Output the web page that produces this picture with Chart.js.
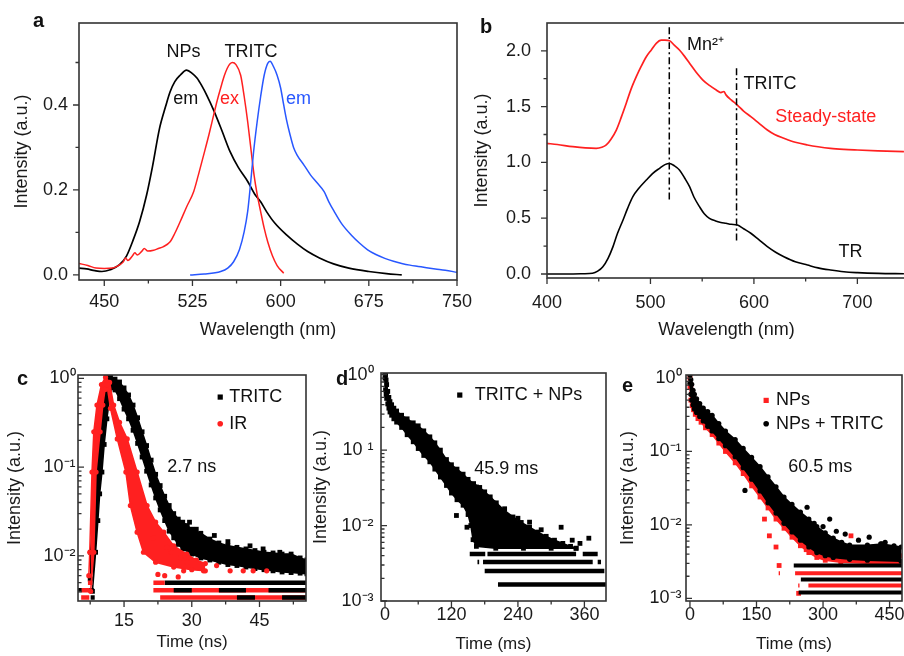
<!DOCTYPE html>
<html>
<head>
<meta charset="utf-8">
<title>Spectra and decay curves</title>
<script src="https://cdn.jsdelivr.net/npm/chart.js@4.4.1/dist/chart.umd.min.js"></script>
<style>
  html, body { margin: 0; padding: 0; background: #fff; width: 904px; height: 656px; overflow: hidden; }
  .panel { position: absolute; }
  .tag { position: absolute; font: bold 20px/20px "Liberation Sans", Arial, sans-serif; color: #111; }
</style>
</head>
<body>
<div class="panel" style="left:0;top:20px;width:474px;height:325px"><canvas id="chartA"></canvas></div>
<div class="panel" style="left:460px;top:20px;width:446px;height:325px"><canvas id="chartB"></canvas></div>
<div class="panel" style="left:0;top:362px;width:310px;height:294px"><canvas id="chartC"></canvas></div>
<div class="panel" style="left:308px;top:360px;width:302px;height:296px"><canvas id="chartD"></canvas></div>
<div class="panel" style="left:612px;top:362px;width:294px;height:294px"><canvas id="chartE"></canvas></div>
<div class="tag" style="left:33px;top:10px">a</div>
<div class="tag" style="left:480px;top:16px">b</div>
<div class="tag" style="left:17px;top:368px">c</div>
<div class="tag" style="left:336px;top:368px">d</div>
<div class="tag" style="left:622px;top:375px">e</div>
<script>
const RED = '#ff2020', BLUE = '#2857ff', BLACK = '#000';

// ---- a: NPs emission, TRITC excitation and emission (wavelength nm / intensity)
const npsEmNm = [428.5,435,442,448,455,463,469,474,480,486,491,497,502,506,510,514.5,520,525,529,533,537,543,550,557,564,572,578,583,588,595,605,614,623,633,645,658,675,690,703];
const npsEm = [0.016,0.014,0.010,0.008,0.012,0.024,0.045,0.078,0.125,0.188,0.255,0.345,0.395,0.431,0.455,0.470,0.482,0.474,0.463,0.445,0.424,0.388,0.34,0.29,0.253,0.22,0.19,0.172,0.149,0.122,0.094,0.073,0.055,0.04,0.026,0.016,0.008,0.003,0.0];
const tritcExNm = [428.5,436,443,450,457,462,466,468,470,474,476,478,482,484,487,492,496,500,506,510,514.5,520,526,530,534.5,539,543,546,549,552,554.5,557,559,562,566,569,572,575,577.4,580,583,586,589,593,597,602.6];
const tritcEx = [0.027,0.022,0.016,0.015,0.016,0.022,0.030,0.040,0.034,0.045,0.052,0.047,0.056,0.062,0.056,0.058,0.062,0.066,0.078,0.098,0.125,0.16,0.196,0.235,0.282,0.33,0.376,0.41,0.44,0.468,0.486,0.497,0.5,0.495,0.47,0.42,0.36,0.29,0.235,0.19,0.149,0.11,0.078,0.045,0.022,0.004];
const tritcEmNm = [523,535,549,555,560,565,569,572,574.6,577,580,583,586,589,591,594,597,600,602.6,605,608,611,614,620,625.5,631,637,641,645.6,652,660,667,674,681,688.6,696,703,710,717,724,731.5,740,750];
const tritcEm = [0.0,0.002,0.008,0.016,0.031,0.06,0.102,0.15,0.22,0.29,0.36,0.42,0.47,0.498,0.503,0.49,0.47,0.44,0.40,0.365,0.33,0.30,0.282,0.258,0.235,0.217,0.196,0.172,0.149,0.12,0.094,0.075,0.059,0.048,0.039,0.032,0.027,0.023,0.02,0.017,0.014,0.011,0.006];
const aXTicks = [450,525,600,675,750], aXMinor = [487.5,562.5,637.5,712.5];
const aYTicks = [0,0.2,0.4], aYMinor = [0.1,0.3,0.5];

// ---- b: steady-state and time-resolved spectra
const steadyNm = [400,410,425,437,447.6,453,457.3,462,467,472,476.6,481,486.3,491,496,501,505.6,510.4,514,518.5,523,528,533,537.8,544,550.7,557,563.6,568,571,573,578,584,590,597,605,613,620,629,640,651.8,662,674,687,700,720,745];
const steady = [1.17,1.16,1.141,1.13,1.126,1.135,1.156,1.21,1.29,1.41,1.53,1.65,1.768,1.86,1.947,2.01,2.067,2.095,2.095,2.09,2.05,2.007,1.95,1.888,1.81,1.738,1.69,1.649,1.625,1.635,1.605,1.56,1.514,1.46,1.41,1.35,1.29,1.25,1.216,1.18,1.156,1.14,1.126,1.117,1.111,1.103,1.096];
const trNm = [400,420,435,444,449,454,459,463.8,468,473.5,478,483,489,496,502,508.8,514,518.5,523,528,533,537.8,542,547.4,552,557,563,568,573,578,584,590,597,605,613,621,629,640,651.8,662,674,687,700,720,745];
const tr = [0.0,0.0,0.002,0.006,0.025,0.065,0.14,0.245,0.36,0.484,0.59,0.693,0.77,0.842,0.9,0.947,0.98,0.99,0.97,0.932,0.86,0.782,0.69,0.603,0.54,0.499,0.475,0.462,0.454,0.445,0.439,0.405,0.365,0.305,0.245,0.195,0.155,0.11,0.08,0.055,0.036,0.02,0.012,0.005,0.002];
const mnLineNm = [518.2,518.2], mnLineY = [2.21,0.65];
const tritcLineNm = [583.2,583.2], tritcLineY = [1.843,0.275];
const bXTicks = [400,500,600,700], bXMinor = [450,550,650];
const bYTicks = [0,0.5,1,1.5,2], bYMinor = [0.25,0.75,1.25,1.75];

// ---- c: TRITC and IR decays (ns), cloud edges + stray points + count floors
const cTritcUpT = [7.5,7.6,8.0,8.4,8.7,9.2,9.7,10.1,10.6,11.1,11.6,12,13,14,15,16,17,18,19,20,21,22,23,24,25,26,27,28,29,30,32,34,36,38,40,42,44,46,48,50,52,54,55.5];
const cTritcUpI = [0.0055,0.011,0.025,0.05,0.088,0.16,0.3,0.5,0.75,0.95,1.04,1.05,0.98,0.91,0.78,0.65,0.5,0.36,0.25,0.175,0.12,0.083,0.062,0.047,0.037,0.03,0.026,0.024,0.022,0.02,0.018,0.0155,0.014,0.013,0.0125,0.012,0.0115,0.011,0.0108,0.0105,0.0105,0.0095,0.009];
const cTritcLoT = [8.0,8.7,9.2,9.6,10.1,10.6,11.2,11.8,12.2,13,14,15,16,17,18,19,20,21,22,23,24,25,26,27,28,30,32,34,36,38,40,42,44,46,48,50,52,54,55.5];
const cTritcLoI = [0.004,0.011,0.025,0.05,0.088,0.18,0.35,0.6,0.78,0.74,0.59,0.45,0.35,0.26,0.185,0.13,0.09,0.063,0.045,0.033,0.025,0.019,0.016,0.0135,0.012,0.0105,0.0095,0.009,0.0085,0.008,0.0078,0.0075,0.0072,0.007,0.0068,0.0066,0.0065,0.0064,0.0063];
const cTritcDotT = [29.5,31,42.9,45.8,49.5,51,35,38];
const cTritcDotI = [0.024,0.02,0.013,0.012,0.011,0.0099,0.017,0.0145];
const cIrUpT = [7.2,7.4,7.9,8.3,9.0,10.0,10.9,11.8,12.7,14,15.7,17.9,20.1,22,23.8,26,28.9,31,33];
const cIrUpI = [0.006,0.011,0.088,0.25,0.5,0.85,1.03,0.9,0.5,0.32,0.208,0.088,0.037,0.024,0.0185,0.013,0.0105,0.009,0.0082];
const cIrLoT = [7.6,8.3,8.8,9.7,10.3,10.8,11.2,12,13.5,15.4,16.4,17.9,19.3,22,26,30,33];
const cIrLoI = [0.004,0.011,0.088,0.25,0.5,0.75,0.85,0.46,0.208,0.088,0.037,0.0185,0.011,0.0085,0.0075,0.007,0.0068];
const cIrDotT = [28.2,32.6,38.5,41.4,43.6,46.6,27.5,29,24.5,21.5,25.5,35.5,22.5,24,27];
const cIrDotI = [0.0068,0.0068,0.0068,0.0068,0.0068,0.0068,0.0095,0.0085,0.0125,0.016,0.011,0.0078,0.0062,0.006,0.0058];
const cFloorBlack = [[0.005, [[24,55.3]]], [0.0041, [[4.8,5.6],[7.4,8.3],[26,30],[36,42],[47,55.3]]], [0.0034, [[7.6,8.5],[40,44],[50,55.3]]]];
const cFloorRed = [[0.005, [[21.5,24],[7.0,8.0]]], [0.0041, [[21.5,55.3],[5.5,7.5]]], [0.0034, [[23,55.3],[5.5,7.3]]]];
const cXTicks = [15,30,45], cXMinor = [7.5,22.5,37.5,52.5];
const cYTicks = [1,0.1,0.01], cYLabels = ['10⁰','10⁻¹','10⁻²'];

// ---- d: TRITC + NPs decay (ms)
const dUpT = [0,1,2,3,5,7,9,12,16,21,30,40,51,60,70,81,90,100,111,120,130,141,150,160,171,180,190,201,215,231,246,261,276,291,306,321,335,345];
const dUpI = [1.05,0.98,0.85,0.74,0.6,0.5,0.44,0.4,0.36,0.33,0.29,0.26,0.23,0.21,0.18,0.15,0.125,0.1,0.075,0.064,0.056,0.048,0.041,0.036,0.032,0.028,0.024,0.02,0.016,0.013,0.011,0.0095,0.0082,0.0072,0.0064,0.0058,0.0053,0.005];
const dLoT = [0,1,2,3,5,7,9,12,16,21,30,40,51,60,70,81,90,100,111,120,130,141,150,155,159,165,200,250,300,345];
const dLoI = [0.9,0.63,0.55,0.485,0.41,0.36,0.32,0.29,0.26,0.235,0.2,0.16,0.129,0.105,0.085,0.07,0.056,0.044,0.034,0.027,0.022,0.0186,0.014,0.01,0.0065,0.0053,0.005,0.005,0.005,0.005];
const dDotT = [165,216,261,318,368,195,240,282,303,338,352,129,148];
const dDotI = [0.0325,0.0167,0.0111,0.0095,0.0068,0.02,0.0125,0.0088,0.0059,0.0064,0.0058,0.0136,0.0095];
const dFloor = [[0.0042, [[153,181],[185,345],[357,384]]], [0.0033, [[167,170],[177,375],[384,390]]], [0.0025, [[180,396]]], [0.00166, [[204,399]]]];
const dXTicks = [0,120,240,360], dXMinor = [60,180,300];
const dYTicks = [1,0.1,0.01,0.001], dYLabels = ['10⁰','10 ¹','10⁻²','10⁻³'];

// ---- e: NPs and NPs + TRITC decays (ms)
const eRedT = [0,2,5,8,12,18,25,35,50,65,80,102,120,139,158,176,194,212,230,249,268,286,305,340,400,476];
const eRedUpI = [1.0,0.8,0.6,0.5,0.42,0.36,0.31,0.27,0.22,0.17,0.135,0.1,0.075,0.055,0.04,0.029,0.021,0.015,0.011,0.0085,0.0067,0.0055,0.0048,0.0042,0.004,0.0038];
const eRedLoI = [0.75,0.5,0.42,0.37,0.32,0.28,0.25,0.21,0.17,0.13,0.1,0.07,0.05,0.034,0.024,0.017,0.012,0.009,0.0068,0.0052,0.0042,0.0036,0.0033,0.0031,0.003,0.003];
const eBlkUpT = [0,2,4,7,10,15,22,30,40,50,65,80,102,120,139,158,176,194,212,230,249,268,286,305,323,342,360,400,433,476];
const eBlkUpI = [1.1,0.95,0.82,0.68,0.6,0.52,0.45,0.39,0.35,0.31,0.24,0.19,0.145,0.11,0.083,0.062,0.045,0.033,0.024,0.019,0.015,0.012,0.0095,0.0078,0.0066,0.0058,0.0053,0.0053,0.0055,0.005];
const eBlkLoT = [0,2,4,7,10,15,22,30,40,50,65,80,102,120,139,158,176,194,212,230,249,268,286,305,323,360,400,476];
const eBlkLoI = [0.85,0.6,0.5,0.43,0.38,0.34,0.3,0.26,0.22,0.19,0.15,0.12,0.085,0.06,0.042,0.029,0.02,0.0145,0.0105,0.008,0.0062,0.005,0.0042,0.0038,0.0036,0.0034,0.0033,0.0032];
const eRedDotT = [168,179,201,194,363,245,230,262];
const eRedDotI = [0.012,0.0071,0.0028,0.005,0.0071,0.00117,0.0105,0.0046];
const eBlkDotT = [264,315,404,430,124,280,350,380,440,460,300,330];
const eBlkDotI = [0.0174,0.012,0.0068,0.0055,0.0295,0.0105,0.0075,0.0062,0.0058,0.0052,0.0095,0.0082];
const eFloorBlack = [[0.0028, [[234,478]]], [0.0018, [[250,478]]], [0.0012, [[245,478]]]];
const eFloorRed = [[0.0022, [[200,203],[237,478]]], [0.0015, [[244,247],[267,478]]]];
const eXTicks = [0,150,300,450], eXMinor = [75,225,375];
const eYLabels = ['10⁰','10⁻¹','10⁻²','10⁻³'];

// minor ticks of the log axes: 2..9 of every decade inside the range
function logMinor(lo, min) {
  const out = [];
  for (let d = lo; d < 1; d *= 10) for (let k = 2; k <= 9; k++) out.push(+(k * d).toPrecision(3));
  return out.filter(v => v > min);
}

const FONT = '"Liberation Sans", Arial, Helvetica, sans-serif';
Chart.defaults.font.family = FONT;
Chart.defaults.font.size = 18;
Chart.defaults.color = '#111';

const pts = (xs, ys) => xs.map((x, i) => ({x: x, y: ys[i]}));

function curve(xs, ys, color, w) {
  return {data: pts(xs, ys), borderColor: color, borderWidth: w, pointRadius: 0, fill: false, cubicInterpolationMode: 'monotone'};
}
function edge(xs, ys, color, style, r, fillPrev) {
  return {data: pts(xs, ys), borderColor: color, backgroundColor: color, borderWidth: 1.5, tension: 0,
    pointStyle: style, pointRadius: r, pointBackgroundColor: color, pointBorderWidth: 0, fill: fillPrev ? '-1' : false};
}
function dots(xs, ys, color, style, r) {
  return {data: pts(xs, ys), showLine: false, borderColor: color, pointStyle: style, pointRadius: r,
    pointBackgroundColor: color, pointBorderWidth: 0};
}
function floors(list, color, w) {
  return list.map(([level, spans]) => {
    const d = [];
    spans.forEach(([a, b]) => { d.push({x: a, y: level}, {x: b, y: level}, {x: b, y: null}); });
    return {data: d, borderColor: color, borderWidth: w, pointRadius: 0, fill: false, spanGaps: false, borderCapStyle: 'butt'};
  });
}

function xAxis(type, min, max, ticks, labels, title, tickPad, titlePad, h, titleSize) {
  return {
    type: type, min: min, max: max,
    grid: {display: false, drawTicks: false}, border: {display: false},
    ticks: {padding: tickPad, autoSkip: false, maxRotation: 0, color: '#1a1a1a', callback: (v, i) => labels[i]},
    afterBuildTicks: s => { s.ticks = ticks.map(v => ({value: v})); },
    afterFit: s => { s.height = h; s.paddingLeft = 0; s.paddingRight = 0; },
    title: {display: true, text: title, color: '#1a1a1a', font: {size: titleSize}, padding: {top: 0, bottom: titlePad}}
  };
}
function yAxis(type, min, max, ticks, labels, title, tickPad, titlePad, w) {
  return {
    type: type, min: min, max: max,
    grid: {display: false, drawTicks: false}, border: {display: false},
    ticks: {padding: tickPad, autoSkip: false, color: '#1a1a1a', callback: (v, i) => labels[i]},
    afterBuildTicks: s => { s.ticks = ticks.map(v => ({value: v})); },
    afterFit: s => { s.width = w; s.paddingTop = 0; s.paddingBottom = 0; },
    title: {display: true, text: title, color: '#1a1a1a', font: {size: 18}, padding: {top: titlePad, bottom: 0}}
  };
}

// frame, tick marks, in-plot texts and legend marks
function deco(cfg) {
  return {
    id: 'deco',
    afterDatasetsDraw(chart) {
      const {ctx, chartArea: a} = chart;
      const sx = chart.scales.x, sy = chart.scales.y;
      ctx.save();
      ctx.strokeStyle = '#333';
      ctx.lineWidth = 1.6;
      ctx.strokeRect(a.left, a.top, a.right - a.left, a.bottom - a.top);
      ctx.lineWidth = 1.3;
      ctx.beginPath();
      const xt = (vals, len) => vals.forEach(v => { const p = sx.getPixelForValue(v); ctx.moveTo(p, a.bottom); ctx.lineTo(p, a.bottom + len); });
      const yt = (vals, len) => vals.forEach(v => { const p = sy.getPixelForValue(v); ctx.moveTo(a.left, p); ctx.lineTo(a.left + (cfg.yIn ? len : -len), p); });
      xt(cfg.xMajor, 6); xt(cfg.xMinor, 3.5); yt(cfg.yMajor, 6); yt(cfg.yMinor, 3.5);
      ctx.stroke();
      ctx.font = '18px ' + FONT;
      ctx.textBaseline = 'middle';
      cfg.notes.forEach(n => {
        const px = sx.getPixelForValue(n.x), py = sy.getPixelForValue(n.y);
        ctx.fillStyle = n.color;
        if (n.mark === 'rect') ctx.fillRect(px - 2.6, py - 2.6, 5.2, 5.2);
        else if (n.mark === 'circle') { ctx.beginPath(); ctx.arc(px, py, 2.8, 0, 2 * Math.PI); ctx.fill(); }
        else { ctx.textAlign = n.align || 'center'; ctx.fillText(n.text, px, py); }
      });
      ctx.restore();
    }
  };
}

function make(id, datasets, scales, pad, cfg) {
  datasets.forEach((d, i) => { d.order = datasets.length - i; });
  new Chart(document.getElementById(id), {
    type: 'line',
    data: {datasets: datasets},
    options: {
      responsive: true, maintainAspectRatio: false, animation: false, events: [],
      layout: {padding: pad},
      scales: scales,
      plugins: {legend: {display: false}, tooltip: {enabled: false}}
    },
    plugins: [deco(cfg)]
  });
}

// a
make('chartA', [
  curve(npsEmNm, npsEm, BLACK, 1.7),
  curve(tritcExNm, tritcEx, RED, 1.5),
  curve(tritcEmNm, tritcEm, BLUE, 1.5)
], {
  x: xAxis('linear', 428.5, 750, aXTicks, aXTicks.map(String), 'Wavelength (nm)', 11, 4, 65, 18),
  y: yAxis('linear', -0.012, 0.593, aYTicks, aYTicks.map(v => v.toFixed(1)), 'Intensity (a.u.)', 11, 11, 79)
}, {top: 3, right: 17, left: 0, bottom: 0}, {
  xMajor: aXTicks, xMinor: aXMinor, yMajor: aYTicks, yMinor: aYMinor, yIn: false,
  notes: [
    {text: 'NPs', x: 517.4, y: 0.525, color: '#111'},
    {text: 'TRITC', x: 574.7, y: 0.525, color: '#111'},
    {text: 'em', x: 519.3, y: 0.414, color: '#111'},
    {text: 'ex', x: 556.5, y: 0.414, color: RED},
    {text: 'em', x: 615.2, y: 0.414, color: BLUE}
  ]
});

// b
const dashDot = [7, 3, 2, 3];
make('chartB', [
  curve(steadyNm, steady, RED, 1.7),
  curve(trNm, tr, BLACK, 1.6),
  Object.assign(curve(mnLineNm, mnLineY, BLACK, 1.5), {borderDash: dashDot}),
  Object.assign(curve(tritcLineNm, tritcLineY, BLACK, 1.5), {borderDash: dashDot})
], {
  x: xAxis('linear', 400, 747, bXTicks, bXTicks.map(String), 'Wavelength (nm)', 14, 4, 67, 18),
  y: yAxis('linear', -0.036, 2.249, bYTicks, bYTicks.map(v => v.toFixed(1)), 'Intensity (a.u.)', 16, 11, 87)
}, {top: 3, right: 0, left: 0, bottom: 0}, {
  xMajor: bXTicks, xMinor: bXMinor, yMajor: bYTicks, yMinor: bYMinor, yIn: false,
  notes: [
    {text: 'Mn²⁺', x: 535.3, y: 2.052, color: '#111', align: 'left'},
    {text: 'TRITC', x: 590, y: 1.70, color: '#111', align: 'left'},
    {text: 'Steady-state', x: 620.6, y: 1.407, color: RED, align: 'left'},
    {text: 'TR', x: 681.7, y: 0.2, color: '#111', align: 'left'}
  ]
});

// c
make('chartC', [
  edge(cTritcUpT, cTritcUpI, BLACK, 'rect', 3.4, false),
  edge(cTritcLoT, cTritcLoI, BLACK, 'rect', 3.4, true),
  dots(cTritcDotT, cTritcDotI, BLACK, 'rect', 3.4),
  ...floors(cFloorBlack.slice(0, 1), BLACK, 4.5),
  ...floors(cFloorRed, RED, 4.5),
  ...floors(cFloorBlack.slice(1), BLACK, 4.5),
  edge(cIrUpT, cIrUpI, RED, 'circle', 2.6, false),
  edge(cIrLoT, cIrLoI, RED, 'circle', 2.6, true),
  dots(cIrDotT, cIrDotI, RED, 'circle', 2.6)
], {
  x: xAxis('linear', 4.8, 55.3, cXTicks, cXTicks.map(String), 'Time (ns)', 9, 3, 55, 17),
  y: yAxis('logarithmic', 0.00311, 1.09, cYTicks, cYLabels, 'Intensity (a.u.)', 2.5, 4, 78)
}, {top: 13, right: 3, left: 0, bottom: 0}, {
  xMajor: cXTicks, xMinor: cXMinor, yMajor: cYTicks, yMinor: logMinor(0.001, 0.00311), yIn: true,
  notes: [
    {mark: 'rect', x: 36.3, y: 0.615, color: BLACK},
    {text: 'TRITC', x: 38.3, y: 0.615, color: '#111', align: 'left'},
    {mark: 'circle', x: 36.3, y: 0.308, color: RED},
    {text: 'IR', x: 38.3, y: 0.308, color: '#111', align: 'left'},
    {text: '2.7 ns', x: 30, y: 0.1, color: '#111'}
  ]
});

// d
make('chartD', [
  edge(dUpT, dUpI, BLACK, 'rect', 3.4, false),
  edge(dLoT, dLoI, BLACK, 'rect', 3.4, true),
  dots(dDotT, dDotI, BLACK, 'rect', 3.4),
  ...floors(dFloor, BLACK, 4.5)
], {
  x: xAxis('linear', -7.2, 399, dXTicks, dXTicks.map(String), 'Time (ms)', 3.5, 1, 55, 17),
  y: yAxis('logarithmic', 0.001, 1.053, dYTicks, dYLabels, 'Intensity (a.u.)', 7.5, 2, 73)
}, {top: 13, right: 3, left: 0, bottom: 0}, {
  xMajor: dXTicks, xMinor: dXMinor, yMajor: dYTicks, yMinor: logMinor(0.001, 0.001), yIn: true,
  notes: [
    {mark: 'rect', x: 135, y: 0.537, color: BLACK},
    {text: 'TRITC + NPs', x: 162, y: 0.537, color: '#111', align: 'left'},
    {text: '45.9 ms', x: 219, y: 0.0568, color: '#111'}
  ]
});

// e
make('chartE', [
  edge(eRedT, eRedUpI, RED, 'rect', 3.4, false),
  edge(eRedT, eRedLoI, RED, 'rect', 3.4, true),
  dots(eRedDotT, eRedDotI, RED, 'rect', 3.4),
  ...floors(eFloorRed, RED, 4),
  ...floors(eFloorBlack, BLACK, 4),
  edge(eBlkUpT, eBlkUpI, BLACK, 'circle', 2.6, false),
  edge(eBlkLoT, eBlkLoI, BLACK, 'circle', 2.6, true),
  dots(eBlkDotT, eBlkDotI, BLACK, 'circle', 2.6)
], {
  x: xAxis('linear', -8.9, 478, eXTicks, eXTicks.map(String), 'Time (ms)', 3.5, 1, 55, 17),
  y: yAxis('logarithmic', 0.00092, 1.1, dYTicks, eYLabels, 'Intensity (a.u.)', 4.5, 5, 74)
}, {top: 13, right: 0, left: 0, bottom: 0}, {
  xMajor: eXTicks, xMinor: eXMinor, yMajor: dYTicks, yMinor: logMinor(0.001, 0.00092), yIn: true,
  notes: [
    {mark: 'rect', x: 171.8, y: 0.496, color: RED},
    {text: 'NPs', x: 194, y: 0.496, color: '#111', align: 'left'},
    {mark: 'circle', x: 171.8, y: 0.238, color: BLACK},
    {text: 'NPs + TRITC', x: 194, y: 0.238, color: '#111', align: 'left'},
    {text: '60.5 ms', x: 293.5, y: 0.061, color: '#111'}
  ]
});
</script>
</body>
</html>
